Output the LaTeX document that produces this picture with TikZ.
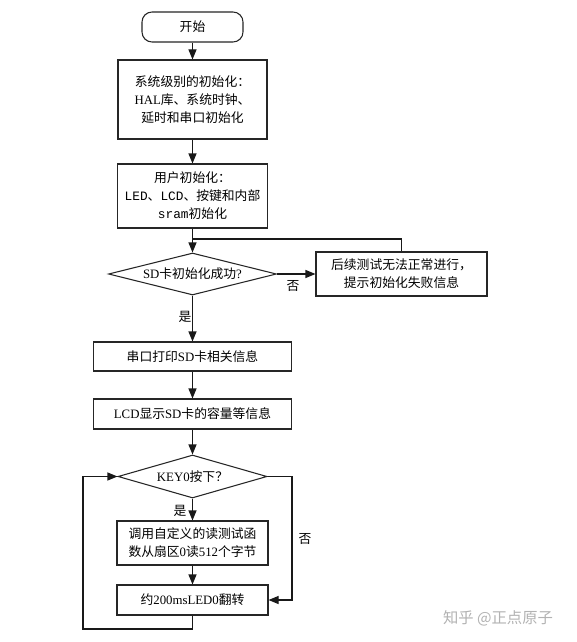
\documentclass[tikz,border=0pt]{standalone}
\usepackage{fontspec}
\setmainfont{Liberation Serif}
\setmonofont{Liberation Mono}
\newfontfamily\cjk{Noto Sans CJK SC}
\usetikzlibrary{positioning,shapes.geometric,arrows.meta}

\begin{document}
\begin{tikzpicture}[
				x=0.75pt, y=-0.75pt,
				startnode/.style={rectangle, rounded corners=7.5pt, draw=black!85, line width=0.8pt, inner sep=0pt, font=\cjk\fontsize{9.6}{13.5}\selectfont},
				boxnode/.style={rectangle, draw=black!85, line width=0.8pt, inner sep=0pt, align=center, font=\cjk\fontsize{9.6}{13.5}\selectfont},
				decnode/.style={diamond, aspect=4, draw=black!85, line width=0.8pt, inner sep=0pt, font=\cjk\fontsize{9.6}{13.5}\selectfont},
				tagnode/.style={inner sep=0pt, font=\cjk\fontsize{9.6}{13.5}\selectfont},
				line/.style={draw=black!90, line width=0.8pt},
				arrow/.style={line, -{Triangle[length=7.5pt,width=6pt]}},
				]
				\fill[white] (0,0) rectangle (576,642);
				\useasboundingbox (0,0) rectangle (576,642);
				%Nodes
				\node[startnode, minimum width=75.75pt, minimum height=22.5pt](start) at (192.5,27){开始};
				\node[boxnode, minimum width=111.75pt, minimum height=59.25pt](sysinit) at (192.5,99.5){系统级别的初始化：\\{\rmfamily HAL}库、系统时钟、\\延时和串口初始化};
				\node[boxnode, minimum width=112.5pt, minimum height=48pt](userinit) at (192.5,196){用户初始化：\\{\ttfamily LED}、{\ttfamily LCD}、按键和内部\\{\ttfamily sram}初始化};
				\node[decnode, minimum width=126pt, minimum height=31.5pt](sdok) at (192.5,274){{\rmfamily SD}卡初始化成功{\rmfamily ?}};
				\node[boxnode, minimum width=128.25pt, minimum height=33pt](fail) at (401.5,274){后续测试无法正常进行，\\提示初始化失败信息};
				\node[boxnode, minimum width=148.5pt, minimum height=21.75pt](uart) at (192.5,356.5){串口打印{\rmfamily SD}卡相关信息};
				\node[boxnode, minimum width=148.5pt, minimum height=22.5pt](lcd) at (192.5,414){{\rmfamily LCD}显示{\rmfamily SD}卡的容量等信息};
				\node[decnode, aspect=3.5, minimum width=111.75pt, minimum height=32.25pt](key) at (192.5,476.5){{\rmfamily KEY0}按下？};
				\node[boxnode, minimum width=113.25pt, minimum height=33pt](readsec) at (192.5,543){调用自定义的读测试函\\数从扇区{\rmfamily 0}读{\rmfamily 512}个字节};
				\node[boxnode, minimum width=113.25pt, minimum height=22.5pt](blink) at (192.5,600){约{\rmfamily 200msLED0}翻转};
				
				\node[tagnode](no1) at (293,286){否};
				\node[tagnode](yes1) at (185,317){是};
				\node[tagnode](yes2) at (180,511){是};
				\node[tagnode](no2) at (305,539){否};
				\node[inner sep=0pt, text=black!30, font=\cjk\fontsize{11.5}{14}\selectfont](wm) at (498,618){知乎 @正点原子};
				
				\coordinate (merge) at (192.5,239);
				\coordinate (loopl) at (83,629);
				\coordinate (loopr) at (292,476.5);
				
				%Lines
				
				\draw[arrow] (start.south) -- (sysinit.north);
				\draw[arrow] (sysinit.south) -- (userinit.north);
				\draw[arrow] (userinit.south) -- (sdok.north);
				\draw[line] (fail.north) |- (merge);
				\draw[arrow] (sdok.east) -- (fail.west);
				\draw[arrow] (sdok.south) -- (uart.north);
				\draw[arrow] (uart.south) -- (lcd.north);
				\draw[arrow] (lcd.south) -- (key.north);
				\draw[arrow] (key.south) -- (readsec.north);
				\draw[arrow] (readsec.south) -- (blink.north);
				\draw[arrow] (key.east) -- (loopr) |- (blink.east);
				\draw[arrow] (blink.south) |- (loopl) |- (key.west);
				
			\end{tikzpicture}
\end{document}
